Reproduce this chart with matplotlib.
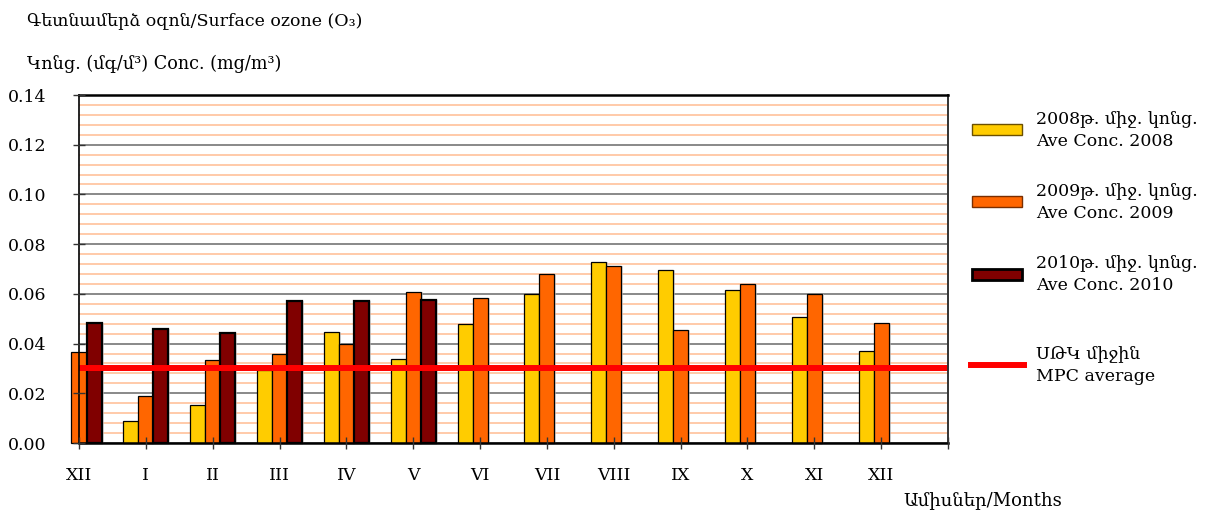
import numpy as np
import matplotlib
matplotlib.use("Agg")
import matplotlib.pyplot as plt
from matplotlib.patches import Rectangle
from matplotlib.lines import Line2D

plt.rcParams["font.family"] = ["DejaVu Serif"]

# Months: December of the previous year, then January..December
months = ["XII", "I", "II", "III", "IV", "V", "VI", "VII", "VIII", "IX", "X", "XI", "XII"]

# Average surface ozone concentration, mg/m3
conc_2008 = [np.nan, 0.0087, 0.0151, 0.0295, 0.0448, 0.0336, 0.048, 0.060, 0.0728, 0.0697, 0.0617, 0.0505, 0.0369]
conc_2009 = [0.0368, 0.019, 0.0335, 0.036, 0.040, 0.0608, 0.0585, 0.0680, 0.0713, 0.0455, 0.0640, 0.0600, 0.0482]
conc_2010 = [0.0482, 0.0458, 0.0443, 0.0570, 0.0570, 0.0577, np.nan, np.nan, np.nan, np.nan, np.nan, np.nan, np.nan]

mpc_average = 0.03

legend_labels = [
    "2008թ. միջ. կոնց.\nAve Conc. 2008",
    "2009թ. միջ. կոնց.\nAve Conc. 2009",
    "2010թ. միջ. կոնց.\nAve Conc. 2010",
    "ՍԹԿ միջին\nMPC average",
]

c_2008 = "#FFCC00"
c_2009 = "#FF6600"
c_2010 = "#800000"
c_mpc = "#FF0000"

fig = plt.figure(figsize=(12.07, 5.11), dpi=100)
ax = fig.add_axes([79 / 1207, 1 - 443 / 511, (948 - 79) / 1207, (443 - 95) / 511])

x = np.arange(len(months))
w = 0.225

# background grid: light orange minor lines, grey major lines
minor = np.arange(0, 0.1401, 0.004)
major = np.arange(0, 0.1401, 0.02)
minor = [m for m in minor if min(abs(m - major)) > 1e-6]
ax.hlines(minor, 0, 13, colors="#FFC6A2", linewidth=1.3, zorder=0.5)
ax.hlines(major, 0, 13, colors="#808080", linewidth=1.3, zorder=0.6)

for vals, off, col, lw in [(conc_2008, -w, c_2008, 0.9),
                           (conc_2009, 0.0, c_2009, 0.9),
                           (conc_2010, w, c_2010, 1.6)]:
    v = np.array(vals, dtype=float)
    # soft shadow to the right of each bar
    ax.bar(x + off + 0.03, v, width=w, color="#C8C8C8", edgecolor="none",
           zorder=1.8, clip_on=False, alpha=0.6)
    ax.bar(x + off, v, width=w, color=col, edgecolor="black", linewidth=lw,
           zorder=2, clip_on=False)

ax.axhline(mpc_average, color=c_mpc, linewidth=4.3, zorder=2.2)

ax.set_xlim(0, 13)
ax.set_ylim(0, 0.14)
ax.set_xticks(np.arange(0, 14))
ax.set_xticklabels(months + [""])
ax.set_yticks(major)
ax.set_yticklabels([f"{t:.2f}" for t in major])
ax.tick_params(axis="y", direction="inout", length=8.6, width=1.0, pad=19,
               labelsize=12.5, color="#333333")
ax.tick_params(axis="x", direction="inout", length=8.0, width=1.0, pad=13,
               labelsize=12.5, color="#333333")
ax.set_axisbelow(False)

for side in ["top", "left", "bottom"]:
    ax.spines[side].set_linewidth(1.8)
    ax.spines[side].set_color("black")
ax.spines["right"].set_linewidth(1.4)
ax.spines["right"].set_color("#333333")
ax.spines["left"].set_linewidth(1.2)

# titles
fig.text(27 / 1207, 1 - 21 / 511, "Գետնամերձ օզոն/Surface ozone (O₃)",
         fontsize=12.5, va="center", ha="left")
fig.text(27 / 1207, 1 - 64 / 511, "Կոնց. (մգ/մ³) Conc. (mg/m³)",
         fontsize=12.7, va="center", ha="left")
fig.text(903 / 1207, 1 - 500 / 511, "Ամիսներ/Months",
         fontsize=13, va="center", ha="left")

# legend on the right
def fx(px):
    return px / 1207

def fy(py):
    return 1 - py / 511

keys = [(c_2008, "#6B5000", 1.0, 130), (c_2009, "#7A2E00", 1.0, 202),
        (c_2010, "black", 2.0, 274)]
for (col, ec, lw, yc), lab in zip(keys, legend_labels[:3]):
    fig.add_artist(Rectangle((fx(972), fy(yc + 5.5)), fx(1022) - fx(972), 11 / 511,
                             facecolor=col, edgecolor=ec, linewidth=lw,
                             transform=fig.transFigure))
    fig.text(fx(1036), fy(yc), lab, fontsize=12.5, va="center", ha="left",
             linespacing=1.5)
fig.add_artist(Line2D([fx(971), fx(1024)], [fy(365), fy(365)], color=c_mpc,
                      linewidth=4.3, transform=fig.transFigure))
fig.text(fx(1036), fy(365), legend_labels[3], fontsize=12.5, va="center",
         ha="left", linespacing=1.5)

fig.savefig("out.png", dpi=100)
